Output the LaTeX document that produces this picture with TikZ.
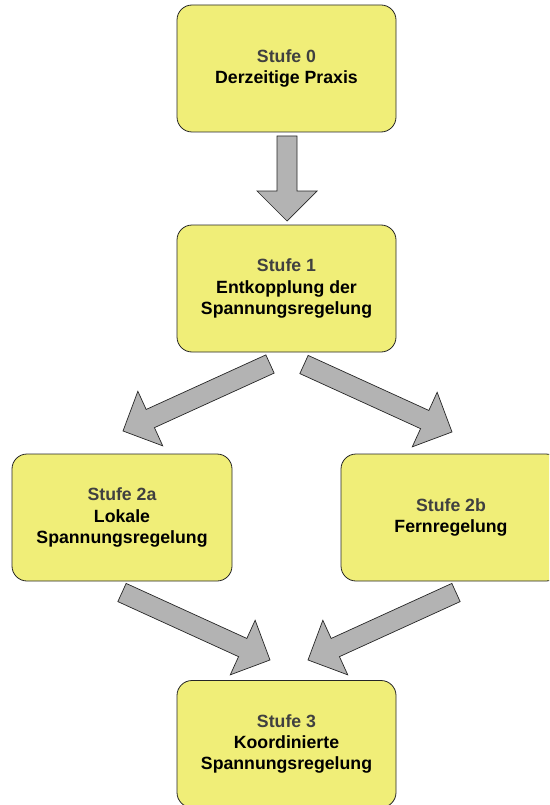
\documentclass[tikz,border=0pt]{standalone}
\usepackage{fontspec}
\setmainfont{Liberation Sans}
\usetikzlibrary{calc}

\definecolor{boxfill}{HTML}{F0EE78}
\definecolor{arrowgray}{HTML}{B3B3B3}
\definecolor{stagegray}{HTML}{404040}

\tikzset{
  stage/.style={draw=black!85, line width=0.8pt, fill=boxfill,
    rounded corners=15pt, minimum width=219pt, minimum height=127pt,
    align=center, inner sep=0pt,
    font=\fontsize{17.7}{21.2}\selectfont\bfseries},
  blockarrowfill/.style={draw=black!85, line width=0.7pt, fill=arrowgray,
    line join=miter},
  % wide block arrow along the x axis, from 0 to its length
  pics/blockarrow/.style={code={
    \path[blockarrowfill] (0,-10) -- (#1-30,-10) -- (#1-30,-30) -- (#1,0)
      -- (#1-30,30) -- (#1-30,10) -- (0,10) -- cycle;}}
}
\newcommand\stagelabel[1]{\textcolor{stagegray}{#1}}
% block arrow from a tail coordinate to a tip coordinate
\newcommand\blockarrowfromto[2]{%
  \path let \p1=($(#2)-(#1)$), \n1={atan2(\y1,\x1)}, \n2={veclen(\x1,\y1)}
    in (#1) pic[rotate=\n1] {blockarrow=\n2};}

\begin{document}
\begin{tikzpicture}[x=1pt,y=1pt]
  \useasboundingbox (0,0) rectangle (549,-805);
  \clip (0,0) rectangle (549,-805);

  % stages
  \node[stage] (s0)  at (286.5,-68.5) {\stagelabel{Stufe 0}\\Derzeitige Praxis};
  \node[stage] (s1)  at (286.5,-288.5) {\stagelabel{Stufe 1}\\Entkopplung der\\Spannungsregelung};
  \node[stage, minimum width=220pt] (s2a) at (122,-517.5) {\stagelabel{Stufe 2a}\\Lokale\\Spannungsregelung};
  \node[stage, minimum width=220pt] (s2b) at (451,-517.5) {\stagelabel{Stufe 2b}\\Fernregelung};
  \node[stage] (s3)  at (286.5,-744) {\stagelabel{Stufe 3}\\Koordinierte\\Spannungsregelung};

  % arrow ends
  \coordinate (t01)  at (287,-136);   \coordinate (h01)  at (287,-221);
  \coordinate (t12a) at (270,-364);   \coordinate (h12a) at (123,-431);
  \coordinate (t12b) at (304,-364.5); \coordinate (h12b) at (452,-432);
  \coordinate (t2a3) at (122,-592.5); \coordinate (h2a3) at (270,-660);
  \coordinate (t2b3) at (456,-592.5); \coordinate (h2b3) at (308,-660);

  % transitions
  \blockarrowfromto{t01}{h01}
  \blockarrowfromto{t12a}{h12a}
  \blockarrowfromto{t12b}{h12b}
  \blockarrowfromto{t2a3}{h2a3}
  \blockarrowfromto{t2b3}{h2b3}
\end{tikzpicture}
\end{document}
